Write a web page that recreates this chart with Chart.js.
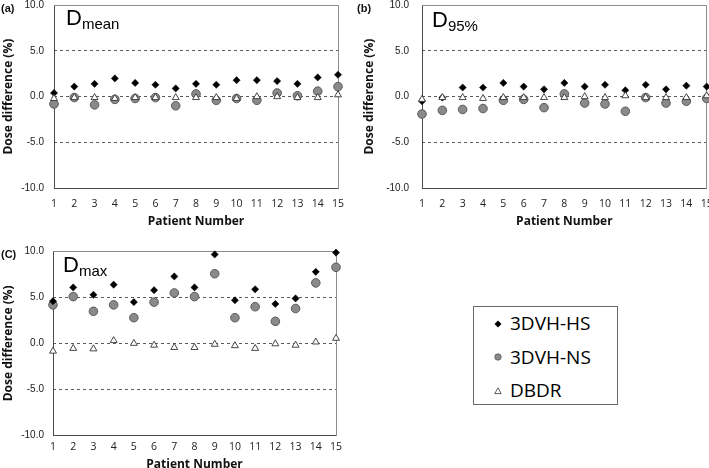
<!DOCTYPE html>
<html>
<head>
<meta charset="utf-8">
<script src="https://cdn.jsdelivr.net/npm/chart.js@4/dist/chart.umd.min.js"></script>
<style>
  html, body { margin:0; padding:0; background:#fff; width:709px; height:468px; overflow:hidden; }
  body { position:relative; font-family:"Liberation Sans", Arial, sans-serif; }
  canvas { position:absolute; z-index:2; }
  .plab { position:absolute; z-index:4; font:bold 11px "Liberation Sans", Arial, sans-serif; color:#111; line-height:12px; }
  .ititle { position:absolute; z-index:4; font-family:"Liberation Sans", Arial, sans-serif; color:#000; white-space:nowrap; line-height:1; }
  .ititle .d { font-size:22px; }
  .ititle .s { font-size:15px; position:relative; top:4px; }
  #legend { position:absolute; z-index:4; left:473px; top:306px; width:143px; height:97px; border:1px solid #6b6b6b; }
  .li { position:absolute; left:36px; font:19px "Open Sans", sans-serif; line-height:22px; color:#000; }
  .lm { position:absolute; left:19px; }
</style>
</head>
<body>
<canvas id="cA" width="355" height="228" style="left:0;top:0"></canvas>
<canvas id="cB" width="362" height="228" style="left:355px;top:0"></canvas>
<canvas id="cC" width="355" height="228" style="left:0;top:240px"></canvas>

<div class="plab" style="left:1px;top:2px">(a)</div>
<div class="plab" style="left:357px;top:2px">(b)</div>
<div class="plab" style="left:1px;top:248px">(C)</div>

<div class="ititle" style="left:66px;top:7px"><span class="d">D</span><span class="s">mean</span></div>
<div class="ititle" style="left:432px;top:9px"><span class="d">D</span><span class="s">95%</span></div>
<div class="ititle" style="left:63px;top:254px"><span class="d">D</span><span class="s">max</span></div>

<div id="legend">
  <svg class="lm" style="top:12px" width="10" height="10"><polygon points="5,1.5 8.5,5 5,8.5 1.5,5" fill="#000"/></svg>
  <span class="li" style="top:5px">3DVH-HS</span>
  <svg class="lm" style="top:45px" width="10" height="10"><circle cx="5" cy="5" r="3.2" fill="#8a8a8a" stroke="#555" stroke-width="0.8"/></svg>
  <span class="li" style="top:39px">3DVH-NS</span>
  <svg class="lm" style="top:79px" width="10" height="10"><polygon points="5,1.8 8.2,7.6 1.8,7.6" fill="#fff" stroke="#333" stroke-width="0.8"/></svg>
  <span class="li" style="top:72px">DBDR</span>
</div>

<script>
// ---- data ----
const patients = [1, 2, 3, 4, 5, 6, 7, 8, 9, 10, 11, 12, 13, 14, 15];
const seriesNames = ["3DVH-HS", "3DVH-NS", "DBDR"];
const yTicks = [-10, -5, 0, 5, 10];

// (a) Dmean
const meanHS   = [0.4, 1.1, 1.4, 2.0, 1.5, 1.3, 0.9, 1.4, 1.3, 1.8, 1.8, 1.7, 1.4, 2.1, 2.4];
const meanNS   = [-0.8, -0.1, -0.9, -0.3, -0.2, -0.1, -1.0, 0.3, -0.4, -0.2, -0.4, 0.4, 0.1, 0.6, 1.1];
const meanDBDR = [-0.2, -0.1, -0.1, -0.2, -0.1, -0.1, -0.1, -0.1, -0.1, -0.2, 0.0, 0.0, -0.1, -0.1, 0.2];

// (b) D95%
const d95HS   = [-0.5, -0.1, 1.0, 1.0, 1.5, 1.1, 0.8, 1.5, 1.1, 1.3, 0.7, 1.3, 0.8, 1.2, 1.1];
const d95NS   = [-1.9, -1.5, -1.4, -1.3, -0.4, -0.3, -1.2, 0.3, -0.7, -0.8, -1.6, -0.1, -0.7, -0.5, -0.2];
const d95DBDR = [-0.3, -0.1, -0.1, -0.2, -0.1, -0.1, -0.1, -0.1, 0.0, -0.1, 0.1, -0.1, -0.1, -0.1, 0.1];

// (c) Dmax
const maxHS   = [4.6, 6.1, 5.3, 6.4, 4.5, 5.8, 7.3, 6.1, 9.7, 4.7, 5.9, 4.3, 4.9, 7.8, 9.9];
const maxNS   = [4.2, 5.1, 3.5, 4.2, 2.8, 4.5, 5.5, 5.1, 7.6, 2.8, 4.0, 2.4, 3.8, 6.6, 8.3];
const maxDBDR = [-0.85, -0.55, -0.6, 0.3, 0.0, -0.2, -0.45, -0.45, -0.1, -0.25, -0.55, -0.05, -0.2, 0.15, 0.55];

// ---- helpers ----
const toXY = vals => vals.map((v, i) => ({ x: patients[i], y: v }));

// an empty edge scale whose only job is to draw one side of the plot frame
function edgeScale(position, color) {
  const horiz = position === 'top' || position === 'bottom';
  return {
    type: 'linear', position, display: true,
    min: horiz ? 1 : -10, max: horiz ? 15 : 10,
    afterFit: s => { if (horiz) s.height = 0; else s.width = 0;
                     s.paddingLeft = s.paddingRight = s.paddingTop = s.paddingBottom = 0; },
    ticks: { display: false },
    grid: { display: false, drawTicks: false, tickLength: 0 },
    border: { display: true, color, width: 1 }
  };
}

function makeChart(id, hs, ns, db, geo) {
  return new Chart(document.getElementById(id), {
    type: 'scatter',
    data: {
      datasets: [
        { label: seriesNames[0], data: toXY(hs), order: 1, pointStyle: 'rectRot', radius: 3.6,
          backgroundColor: '#000', borderColor: '#000', borderWidth: 0.5, clip: false },
        { label: seriesNames[1], data: toXY(ns), order: 2, pointStyle: 'circle', radius: 4.3,
          backgroundColor: '#8a8a8a', borderColor: '#5a5a5a', borderWidth: 1, clip: false },
        { label: seriesNames[2], data: toXY(db), order: 0, pointStyle: 'triangle', radius: 4,
          backgroundColor: '#fff', borderColor: '#333', borderWidth: 0.9, clip: false }
      ]
    },
    options: {
      responsive: false,
      animation: false,
      devicePixelRatio: 1,
      layout: { padding: { left: 0, right: geo.padR, top: geo.padT, bottom: 0 } },
      plugins: { legend: { display: false }, tooltip: { enabled: false } },
      scales: {
        x: {
          type: 'linear', position: 'bottom', min: 1, max: 15,
          afterFit: s => { s.height = geo.xH; s.paddingLeft = 0; s.paddingRight = 0; },
          afterBuildTicks: s => { s.ticks = patients.map(p => ({ value: p })); },
          grid: { display: false, drawTicks: false, tickLength: 0 },
          border: { display: true, color: '#4a4a4a', width: 1 },
          ticks: { padding: geo.xPad, color: '#222', font: { family: 'Open Sans', size: 10.5 }, maxRotation: 0, autoSkip: false },
          title: { display: true, text: 'Patient Number', color: '#111',
                   font: { family: 'Open Sans', size: 12, weight: 'bold' },
                   padding: { top: 0, bottom: geo.xTitlePad } }
        },
        y: {
          type: 'linear', position: 'left', min: -10, max: 10,
          afterFit: s => { s.width = geo.yW; s.paddingTop = 0; s.paddingBottom = 0; },
          afterBuildTicks: s => { s.ticks = yTicks.map(v => ({ value: v })); },
          grid: { display: false, drawTicks: false, tickLength: 0 },
          border: { display: true, color: '#4a4a4a', width: 1 },
          ticks: { padding: geo.yPad, color: '#222', font: { family: 'Liberation Sans', size: 10 },
                   callback: v => Number(v).toFixed(1) },
          title: { display: true, text: 'Dose difference (%)', color: '#111',
                   font: { family: 'Open Sans', size: 12, weight: 'bold' },
                   padding: { top: geo.yTitlePad, bottom: 0 } }
        },
        // dashed horizontal grid lines at -5, 0, 5
        yGrid: {
          type: 'linear', position: 'left', min: -10, max: 10, display: true,
          afterFit: s => { s.width = 0; s.paddingTop = 0; s.paddingBottom = 0; },
          afterBuildTicks: s => { s.ticks = yTicks.map(v => ({ value: v })); },
          ticks: { display: false },
          grid: {
            drawTicks: false, tickLength: 0, lineWidth: 1,
            color: c => (Math.abs(c.tick.value) === 10 ? 'rgba(0,0,0,0)' : '#5a5a5a')
          },
          border: { display: false, dash: [3, 3] }
        },
        xTop: edgeScale('top', '#8c8c8c'),
        yRight: edgeScale('right', '#8c8c8c')
      }
    }
  });
}

makeChart('cA', meanHS, meanNS, meanDBDR,
  { padR: 17, padT: 2.8, xH: 40, yW: 54, xPad: 10, yPad: 10, xTitlePad: -1, yTitlePad: 1.5 });
makeChart('cB', d95HS, d95NS, d95DBDR,
  { padR: 10.3, padT: 2.8, xH: 40, yW: 67, xPad: 10, yPad: 13, xTitlePad: -1, yTitlePad: 7.5 });
makeChart('cC', maxHS, maxNS, maxDBDR,
  { padR: 19, padT: 11.7, xH: 33, yW: 53, xPad: 6, yPad: 9, xTitlePad: -3.5, yTitlePad: 1.5 });
</script>
</body>
</html>
